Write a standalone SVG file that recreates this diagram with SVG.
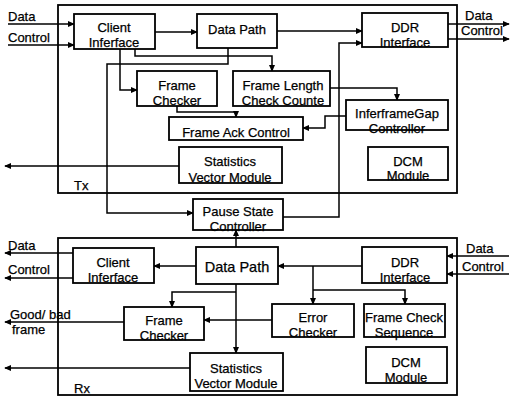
<svg xmlns="http://www.w3.org/2000/svg" width="510" height="400" viewBox="0 0 510 400">
<defs>
<marker id="ar" viewBox="0 0 8 8" refX="7" refY="4" markerWidth="7" markerHeight="7" markerUnits="userSpaceOnUse" orient="auto">
<path d="M0,0.5 L8,4 L0,7.5 Z" fill="#000"/>
</marker>
<style>
.frame{fill:none;stroke:#000;stroke-width:1.8}
.box{fill:#fff;stroke:#000;stroke-width:1.8}
.c{fill:none;stroke:#000;stroke-width:1.5}
.a{marker-end:url(#ar)}
text{font-family:"Liberation Sans",Arial,sans-serif;font-size:13px;fill:#000;stroke:#000;stroke-width:0.25;text-anchor:middle;dominant-baseline:central}
.l{text-anchor:start}
.big{font-size:14.5px}
</style>
</defs>
<rect width="510" height="400" fill="#fff"/>

<g id="tx-frame"><rect class="frame" x="58" y="5" width="399" height="188"/><text class="l" x="74" y="185">Tx</text></g>
<g id="rx-frame"><rect class="frame" x="58" y="238" width="399" height="157"/><text class="l" x="74" y="388">Rx</text></g>

<g id="connectors">
<!-- Tx -->
<path class="c a" d="M8,24 H74"/>
<path class="c a" d="M8,45 H74"/>
<path class="c a" d="M155,32 H197"/>
<path class="c a" d="M277,31 H362"/>
<path class="c a" d="M448,24 H509"/>
<path class="c a" d="M448,39 H509"/>
<path class="c a" d="M135,49 V56 H272 V71"/>
<path class="c a" d="M228,48 V64 H107 V213 H193"/>
<path class="c a" d="M120,49 V90 H137"/>
<path class="c a" d="M177,106 V112 H236 V117"/>
<path class="c a" d="M330,88 H397 V100"/>
<path class="c a" d="M346,116 H325 V128 H303"/>
<path class="c a" d="M283,217 H339 V43 H362"/>
<path class="c a" d="M179,166 H5"/>
<!-- Rx -->
<path class="c a" d="M236,247 V230"/>
<path class="c a" d="M362,266 H278"/>
<path class="c a" d="M196,266 H154"/>
<path class="c a" d="M73,253 H5"/>
<path class="c a" d="M73,278 H5"/>
<path class="c a" d="M509,256 H447"/>
<path class="c a" d="M509,274 H447"/>
<path class="c a" d="M313,266 V304"/>
<path class="c a" d="M313,290 H405 V304"/>
<path class="c a" d="M236,284 V353"/>
<path class="c a" d="M236,292 H172 V307"/>
<path class="c a" d="M272,320 H204"/>
<path class="c a" d="M124,322 H5"/>
<path class="c a" d="M190,368 H5"/>
</g>

<g id="ext-labels">
<text class="l" x="8" y="16">Data</text>
<text class="l" x="8" y="37">Control</text>
<text class="l" x="465" y="15">Data</text>
<text class="l" x="461" y="30">Control</text>
<text class="l" x="8" y="245">Data</text>
<text class="l" x="8" y="269">Control</text>
<text class="l" x="10" y="314">Good/ bad</text>
<text class="l" x="12" y="329">frame</text>
<text class="l" x="466" y="248">Data</text>
<text class="l" x="462" y="266">Control</text>
</g>

<!-- Tx nodes -->
<g id="tx-client"><rect class="box" x="74" y="14" width="81" height="35"/><text x="114" y="27">Client</text><text x="114" y="42">Inferface</text></g>
<g id="tx-datapath"><rect class="box" x="197" y="14" width="80" height="34"/><text x="237" y="29">Data Path</text></g>
<g id="tx-ddr"><rect class="box" x="362" y="13" width="86" height="34"/><text x="405" y="27">DDR</text><text x="405" y="42">Interface</text></g>
<g id="tx-framechecker"><rect class="box" x="137" y="71" width="80" height="35"/><text x="177" y="85">Frame</text><text x="177" y="100">Checker</text></g>
<g id="tx-framelength"><rect class="box" x="233" y="71" width="97" height="35"/><text x="283" y="85">Frame Length</text><text x="283" y="100">Check Counte</text></g>
<g id="tx-frameack"><rect class="box" x="169" y="117" width="134" height="23"/><text x="236" y="132">Frame Ack Control</text></g>
<g id="tx-ifg"><rect class="box" x="346" y="100" width="102" height="30"/><text x="397" y="113">InferframeGap</text><text x="397" y="128">Controller</text></g>
<g id="tx-dcm"><rect class="box" x="368" y="147" width="80" height="33"/><text x="408" y="161">DCM</text><text x="408" y="175">Module</text></g>
<g id="tx-stats"><rect class="box" x="179" y="147" width="103" height="36"/><text x="230" y="161">Statistics</text><text x="230" y="177">Vector Module</text></g>
<g id="pause"><rect class="box" x="193" y="199" width="90" height="31"/><text x="238" y="211">Pause State</text><text x="238" y="226">Controller</text></g>

<!-- Rx nodes -->
<g id="rx-client"><rect class="box" x="73" y="248" width="81" height="35"/><text x="113" y="262">Client</text><text x="113" y="277">Inferface</text></g>
<g id="rx-datapath"><rect class="box" x="196" y="247" width="82" height="37"/><text class="big" x="237" y="267">Data Path</text></g>
<g id="rx-ddr"><rect class="box" x="362" y="247" width="85" height="36"/><text x="405" y="262">DDR</text><text x="405" y="277">Interface</text></g>
<g id="rx-framechecker"><rect class="box" x="124" y="307" width="80" height="33"/><text x="164" y="320">Frame</text><text x="164" y="335">Checker</text></g>
<g id="rx-error"><rect class="box" x="272" y="304" width="82" height="33"/><text x="313" y="317">Error</text><text x="313" y="332">Checker</text></g>
<g id="rx-fcs"><rect class="box" x="364" y="304" width="81" height="33"/><text x="404" y="317">Frame Check</text><text x="404" y="332">Sequence</text></g>
<g id="rx-dcm"><rect class="box" x="366" y="347" width="81" height="36"/><text x="406" y="362">DCM</text><text x="406" y="377">Module</text></g>
<g id="rx-stats"><rect class="box" x="190" y="353" width="93" height="38"/><text x="236" y="368">Statistics</text><text x="236" y="383">Vector Module</text></g>
</svg>
